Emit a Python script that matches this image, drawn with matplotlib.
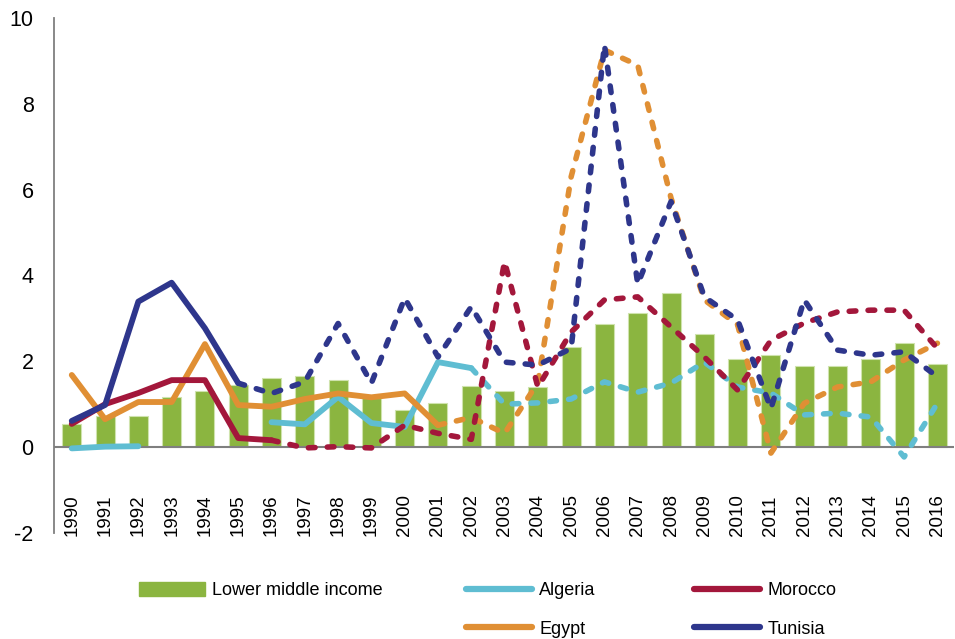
import numpy as np
import matplotlib
matplotlib.use('Agg')
import matplotlib.pyplot as plt
from matplotlib.patches import Patch
from matplotlib.lines import Line2D

plt.rcParams['font.family'] = ['Liberation Sans', 'DejaVu Sans']
plt.rcParams['axes.unicode_minus'] = False

# Values (%)
years = list(range(1990, 2017))
lower_middle_income = [0.54, 0.72, 0.72, 1.17, 1.30, 1.44, 1.61, 1.65, 1.56, 1.14, 0.86, 1.03, 1.42, 1.30,
                       1.39, 2.33, 2.87, 3.12, 3.58, 2.63, 2.06, 2.15, 1.89, 1.89, 2.06, 2.42, 1.93]
algeria = [-0.03, 0.01, 0.02, np.nan, np.nan, np.nan, 0.58, 0.53, 1.17, 0.56, 0.47, 1.98, 1.84, 1.00,
           1.03, 1.12, 1.52, 1.28, 1.49, 1.98, 1.40, 1.26, 0.75, 0.79, 0.70, -0.23, 1.02]
morocco = [0.54, 1.00, 1.26, 1.56, 1.56, 0.21, 0.16, -0.02, 0.01, -0.02, 0.51, 0.32, 0.18, 4.32,
           1.40, 2.68, 3.43, 3.50, 2.80, 2.10, 1.33, 2.49, 2.89, 3.15, 3.19, 3.19, 2.30]
egypt = [1.68, 0.65, 1.05, 1.05, 2.40, 0.98, 0.94, 1.12, 1.25, 1.16, 1.25, 0.51, 0.69, 0.32,
         1.50, 6.30, 9.25, 8.90, 5.80, 3.43, 2.85, -0.14, 1.02, 1.40, 1.52, 2.03, 2.42]
tunisia = [0.61, 0.98, 3.39, 3.83, 2.77, 1.49, 1.25, 1.52, 2.88, 1.49, 3.47, 2.10, 3.27, 1.98,
           1.91, 2.30, 9.37, 3.80, 5.72, 3.50, 2.96, 0.90, 3.43, 2.26, 2.14, 2.22, 1.64]

# year where each country's line switches from solid to dashed
switch_year = {'Algeria': 2002, 'Morocco': 1996, 'Egypt': 2001, 'Tunisia': 1995}

colors = {'Lower middle income': '#8BB540', 'Algeria': '#5FBDD2', 'Morocco': '#A3173B',
          'Egypt': '#E08F34', 'Tunisia': '#2E368C'}

fig = plt.figure(figsize=(9.55, 6.39), dpi=100)
ax = fig.add_axes([0.057, 0.166, 0.942, 0.806])

x = np.arange(len(years))
ax.bar(x, lower_middle_income, width=0.57, color=colors['Lower middle income'],
       edgecolor='#cfe3ad', linewidth=0.8, zorder=2)
ax.axhline(0, color='#7f7f7f', lw=1.5, zorder=3)

series = [('Algeria', algeria), ('Egypt', egypt), ('Morocco', morocco), ('Tunisia', tunisia)]
yrs = np.array(years)
for name, vals in series:
    v = np.array(vals, dtype=float)
    solid = np.where(yrs <= switch_year[name], v, np.nan)
    dashed = np.where(yrs >= switch_year[name], v, np.nan)
    ax.plot(x, solid, color=colors[name], lw=4.2, solid_capstyle='round',
            solid_joinstyle='round', zorder=4)
    ax.plot(x, dashed, color=colors[name], lw=4.0, linestyle=(0, (1.2, 2.2)),
            dash_capstyle='round', zorder=4)

ax.set_xlim(-0.52, 26.5)
ax.set_ylim(-2, 10)
ax.set_yticks(range(-2, 11, 2))
ax.tick_params(axis='y', length=0, pad=15, labelsize=15.5)
ax.set_xticks([])
for s in ['top', 'right', 'bottom']:
    ax.spines[s].set_visible(False)
ax.spines['left'].set_color('#7f7f7f')
ax.spines['left'].set_linewidth(1.3)

# year labels sit inside the plot, above the bottom edge
for i, yr in enumerate(years):
    ax.text(i, -0.005, str(yr), transform=ax.get_xaxis_transform(), rotation=90,
            ha='center', va='bottom', fontsize=13.5)

leg_kw = dict(frameon=False, fontsize=13, handlelength=3.65, handleheight=0.78,
              handletextpad=0.4, labelspacing=1.2, borderpad=0, borderaxespad=0)
top = 1 - 582 / 639

fig.legend(handles=[Patch(color=colors['Lower middle income'], label='Lower middle income')],
           loc='upper left', bbox_to_anchor=(139 / 955, top), **leg_kw)
fig.legend(handles=[Line2D([], [], color=colors['Algeria'], lw=4.5, solid_capstyle='round', label='Algeria'),
                    Line2D([], [], color=colors['Egypt'], lw=4.5, solid_capstyle='round', label='Egypt')],
           loc='upper left', bbox_to_anchor=(466 / 955, top), **leg_kw)
fig.legend(handles=[Line2D([], [], color=colors['Morocco'], lw=4.5, solid_capstyle='round', label='Morocco'),
                    Line2D([], [], color=colors['Tunisia'], lw=4.5, solid_capstyle='round', label='Tunisia')],
           loc='upper left', bbox_to_anchor=(694 / 955, top), **leg_kw)

fig.savefig('out.png', dpi=100, facecolor='white')
